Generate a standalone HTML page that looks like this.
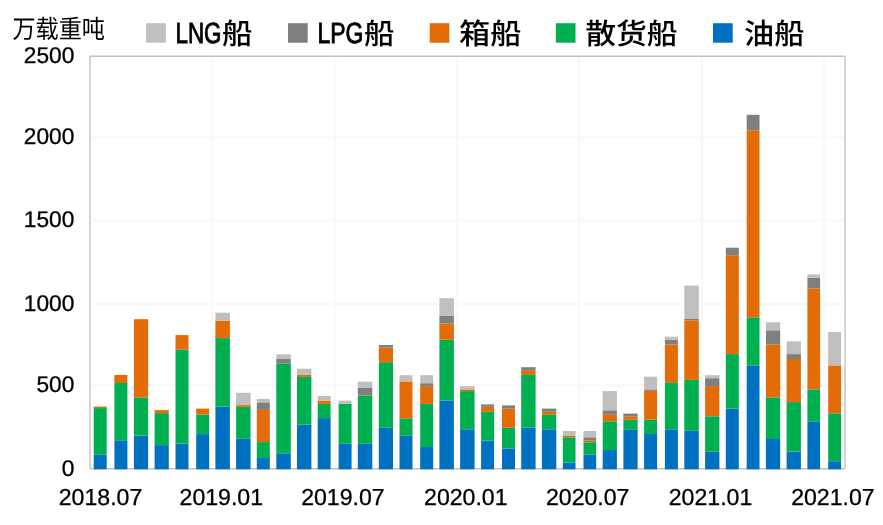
<!DOCTYPE html>
<html lang="zh-CN"><head><meta charset="utf-8"><title>万载重吨</title>
<style>html,body{margin:0;padding:0;background:#fff}body{width:883px;height:525px;overflow:hidden}svg{display:block;text-rendering:geometricPrecision}.ax{font-family:"Liberation Sans","Noto Sans CJK SC",sans-serif;font-size:22.7px;fill:#000;stroke:#000;stroke-width:0.3px}.lg{font-family:"Liberation Sans","Noto Sans CJK SC",sans-serif;font-size:29px;fill:#000;font-weight:500}.lt{font-family:"Liberation Sans","Noto Sans CJK SC",sans-serif;font-size:29.2px;fill:#000;font-weight:400;stroke:#000;stroke-width:0.9px;stroke-linejoin:miter}.ti{font-family:"Liberation Sans","Noto Sans CJK SC",sans-serif;font-size:25.4px;fill:#000;font-weight:400}</style></head><body>
<svg width="883" height="525" viewBox="0 0 883 525">
<rect width="883" height="525" fill="#fff"/>
<g stroke="#f8f8f8" stroke-width="2.2" fill="none">
<line x1="92.5" x2="844.0" y1="137.3" y2="137.3"/>
<line x1="92.5" x2="844.0" y1="220.5" y2="220.5"/>
<line x1="92.5" x2="844.0" y1="304.0" y2="304.0"/>
<line x1="92.5" x2="844.0" y1="385.3" y2="385.3"/>
<line x1="212.2" x2="212.2" y1="57.2" y2="467.7"/>
<line x1="335.3" x2="335.3" y1="57.2" y2="467.7"/>
<line x1="457.0" x2="457.0" y1="57.2" y2="467.7"/>
<line x1="579.0" x2="579.0" y1="57.2" y2="467.7"/>
<line x1="701.9" x2="701.9" y1="57.2" y2="467.7"/>
<line x1="824.0" x2="824.0" y1="57.2" y2="467.7"/>
</g>
<rect x="90.0" y="56.2" width="755.0" height="412.5" fill="none" stroke="#c2c2c2" stroke-width="1.4" rx="0.6"/>
<rect x="93.7" y="454.8" width="13.0" height="14.5" fill="#0070C0"/>
<rect x="93.7" y="408.1" width="13.0" height="46.7" fill="#00B050"/>
<rect x="93.7" y="406.6" width="13.0" height="1.5" fill="#E36C09"/>
<rect x="114.4" y="440.3" width="13.0" height="29.0" fill="#0070C0"/>
<rect x="114.4" y="383.0" width="13.0" height="57.3" fill="#00B050"/>
<rect x="114.4" y="375.0" width="13.0" height="8.0" fill="#E36C09"/>
<rect x="133.9" y="435.6" width="14.2" height="33.7" fill="#0070C0"/>
<rect x="133.9" y="397.4" width="14.2" height="38.2" fill="#00B050"/>
<rect x="133.9" y="319.2" width="14.2" height="78.2" fill="#E36C09"/>
<rect x="154.6" y="445.1" width="14.2" height="24.2" fill="#0070C0"/>
<rect x="154.6" y="413.1" width="14.2" height="32.0" fill="#00B050"/>
<rect x="154.6" y="410.1" width="14.2" height="3.0" fill="#E36C09"/>
<rect x="175.5" y="443.6" width="13.0" height="25.7" fill="#0070C0"/>
<rect x="175.5" y="349.4" width="13.0" height="94.2" fill="#00B050"/>
<rect x="175.5" y="335.1" width="13.0" height="14.3" fill="#E36C09"/>
<rect x="196.2" y="434.1" width="13.0" height="35.2" fill="#0070C0"/>
<rect x="196.2" y="414.6" width="13.0" height="19.5" fill="#00B050"/>
<rect x="196.2" y="408.6" width="13.0" height="6.0" fill="#E36C09"/>
<rect x="215.4" y="406.6" width="14.5" height="62.7" fill="#0070C0"/>
<rect x="215.4" y="338.1" width="14.5" height="68.5" fill="#00B050"/>
<rect x="215.4" y="320.7" width="14.5" height="17.4" fill="#E36C09"/>
<rect x="215.4" y="312.7" width="14.5" height="8.0" fill="#BFBFBF"/>
<rect x="236.1" y="438.8" width="14.5" height="30.5" fill="#0070C0"/>
<rect x="236.1" y="406.9" width="14.5" height="31.9" fill="#00B050"/>
<rect x="236.1" y="405.1" width="14.5" height="1.8" fill="#E36C09"/>
<rect x="236.1" y="392.8" width="14.5" height="12.3" fill="#BFBFBF"/>
<rect x="256.8" y="458.0" width="13.0" height="11.3" fill="#0070C0"/>
<rect x="256.8" y="442.1" width="13.0" height="15.9" fill="#00B050"/>
<rect x="256.8" y="409.9" width="13.0" height="32.2" fill="#E36C09"/>
<rect x="256.8" y="402.4" width="13.0" height="7.5" fill="#7F7F7F"/>
<rect x="256.8" y="398.9" width="13.0" height="3.5" fill="#BFBFBF"/>
<rect x="276.3" y="453.3" width="14.5" height="16.0" fill="#0070C0"/>
<rect x="276.3" y="363.7" width="14.5" height="89.6" fill="#00B050"/>
<rect x="276.3" y="359.0" width="14.5" height="4.7" fill="#7F7F7F"/>
<rect x="276.3" y="354.3" width="14.5" height="4.7" fill="#BFBFBF"/>
<rect x="297.0" y="424.6" width="14.4" height="44.7" fill="#0070C0"/>
<rect x="297.0" y="376.9" width="14.4" height="47.7" fill="#00B050"/>
<rect x="297.0" y="374.9" width="14.4" height="2.0" fill="#E36C09"/>
<rect x="297.0" y="368.7" width="14.4" height="6.2" fill="#BFBFBF"/>
<rect x="317.7" y="418.1" width="12.9" height="51.2" fill="#0070C0"/>
<rect x="317.7" y="403.9" width="12.9" height="14.2" fill="#00B050"/>
<rect x="317.7" y="400.6" width="12.9" height="3.3" fill="#E36C09"/>
<rect x="317.7" y="395.9" width="12.9" height="4.7" fill="#BFBFBF"/>
<rect x="338.6" y="443.8" width="13.0" height="25.5" fill="#0070C0"/>
<rect x="338.6" y="403.9" width="13.0" height="39.9" fill="#00B050"/>
<rect x="338.6" y="400.6" width="13.0" height="3.3" fill="#BFBFBF"/>
<rect x="357.8" y="443.8" width="14.5" height="25.5" fill="#0070C0"/>
<rect x="357.8" y="395.6" width="14.5" height="48.2" fill="#00B050"/>
<rect x="357.8" y="387.9" width="14.5" height="7.7" fill="#7F7F7F"/>
<rect x="357.8" y="381.7" width="14.5" height="6.2" fill="#BFBFBF"/>
<rect x="378.8" y="427.8" width="14.2" height="41.5" fill="#0070C0"/>
<rect x="378.8" y="362.2" width="14.2" height="65.6" fill="#00B050"/>
<rect x="378.8" y="347.6" width="14.2" height="14.6" fill="#E36C09"/>
<rect x="378.8" y="345.0" width="14.2" height="2.6" fill="#7F7F7F"/>
<rect x="399.5" y="435.8" width="13.0" height="33.5" fill="#0070C0"/>
<rect x="399.5" y="418.3" width="13.0" height="17.5" fill="#00B050"/>
<rect x="399.5" y="381.4" width="13.0" height="36.9" fill="#E36C09"/>
<rect x="399.5" y="375.2" width="13.0" height="6.2" fill="#BFBFBF"/>
<rect x="420.2" y="447.0" width="13.0" height="22.3" fill="#0070C0"/>
<rect x="420.2" y="403.9" width="13.0" height="43.1" fill="#00B050"/>
<rect x="420.2" y="386.1" width="13.0" height="17.8" fill="#E36C09"/>
<rect x="420.2" y="383.2" width="13.0" height="2.9" fill="#7F7F7F"/>
<rect x="420.2" y="375.2" width="13.0" height="8.0" fill="#BFBFBF"/>
<rect x="439.4" y="400.6" width="14.5" height="68.7" fill="#0070C0"/>
<rect x="439.4" y="339.8" width="14.5" height="60.8" fill="#00B050"/>
<rect x="439.4" y="323.6" width="14.5" height="16.2" fill="#E36C09"/>
<rect x="439.4" y="315.9" width="14.5" height="7.7" fill="#7F7F7F"/>
<rect x="439.4" y="298.2" width="14.5" height="17.7" fill="#BFBFBF"/>
<rect x="460.1" y="429.3" width="14.5" height="40.0" fill="#0070C0"/>
<rect x="460.1" y="391.1" width="14.5" height="38.2" fill="#00B050"/>
<rect x="460.1" y="389.4" width="14.5" height="1.7" fill="#E36C09"/>
<rect x="460.1" y="386.1" width="14.5" height="3.3" fill="#BFBFBF"/>
<rect x="481.1" y="440.5" width="13.0" height="28.8" fill="#0070C0"/>
<rect x="481.1" y="411.8" width="13.0" height="28.7" fill="#00B050"/>
<rect x="481.1" y="406.8" width="13.0" height="5.0" fill="#E36C09"/>
<rect x="481.1" y="404.4" width="13.0" height="2.4" fill="#7F7F7F"/>
<rect x="502.0" y="448.5" width="13.0" height="20.8" fill="#0070C0"/>
<rect x="502.0" y="427.8" width="13.0" height="20.7" fill="#00B050"/>
<rect x="502.0" y="408.6" width="13.0" height="19.2" fill="#E36C09"/>
<rect x="502.0" y="405.4" width="13.0" height="3.2" fill="#7F7F7F"/>
<rect x="521.2" y="427.8" width="14.4" height="41.5" fill="#0070C0"/>
<rect x="521.2" y="374.9" width="14.4" height="52.9" fill="#00B050"/>
<rect x="521.2" y="370.2" width="14.4" height="4.7" fill="#E36C09"/>
<rect x="521.2" y="367.2" width="14.4" height="3.0" fill="#7F7F7F"/>
<rect x="541.9" y="429.3" width="14.4" height="40.0" fill="#0070C0"/>
<rect x="541.9" y="414.8" width="14.4" height="14.5" fill="#00B050"/>
<rect x="541.9" y="411.8" width="14.4" height="3.0" fill="#E36C09"/>
<rect x="541.9" y="408.6" width="14.4" height="3.2" fill="#7F7F7F"/>
<rect x="562.8" y="462.7" width="12.7" height="6.6" fill="#0070C0"/>
<rect x="562.8" y="437.3" width="12.7" height="25.4" fill="#00B050"/>
<rect x="562.8" y="435.5" width="12.7" height="1.8" fill="#E36C09"/>
<rect x="562.8" y="431.0" width="12.7" height="4.5" fill="#BFBFBF"/>
<rect x="583.5" y="454.7" width="12.7" height="14.6" fill="#0070C0"/>
<rect x="583.5" y="442.3" width="12.7" height="12.4" fill="#00B050"/>
<rect x="583.5" y="440.3" width="12.7" height="2.0" fill="#E36C09"/>
<rect x="583.5" y="437.3" width="12.7" height="3.0" fill="#7F7F7F"/>
<rect x="583.5" y="431.0" width="12.7" height="6.3" fill="#BFBFBF"/>
<rect x="602.7" y="450.0" width="14.2" height="19.3" fill="#0070C0"/>
<rect x="602.7" y="421.3" width="14.2" height="28.7" fill="#00B050"/>
<rect x="602.7" y="414.8" width="14.2" height="6.5" fill="#E36C09"/>
<rect x="602.7" y="410.3" width="14.2" height="4.5" fill="#7F7F7F"/>
<rect x="602.7" y="391.1" width="14.2" height="19.2" fill="#BFBFBF"/>
<rect x="623.4" y="429.3" width="14.2" height="40.0" fill="#0070C0"/>
<rect x="623.4" y="419.8" width="14.2" height="9.5" fill="#00B050"/>
<rect x="623.4" y="416.3" width="14.2" height="3.5" fill="#E36C09"/>
<rect x="623.4" y="413.6" width="14.2" height="2.7" fill="#7F7F7F"/>
<rect x="644.1" y="434.0" width="13.0" height="35.3" fill="#0070C0"/>
<rect x="644.1" y="419.8" width="13.0" height="14.2" fill="#00B050"/>
<rect x="644.1" y="390.9" width="13.0" height="28.9" fill="#E36C09"/>
<rect x="644.1" y="389.4" width="13.0" height="1.5" fill="#7F7F7F"/>
<rect x="644.1" y="376.7" width="13.0" height="12.7" fill="#BFBFBF"/>
<rect x="664.9" y="429.3" width="13.0" height="40.0" fill="#0070C0"/>
<rect x="664.9" y="382.9" width="13.0" height="46.4" fill="#00B050"/>
<rect x="664.9" y="344.5" width="13.0" height="38.4" fill="#E36C09"/>
<rect x="664.9" y="339.7" width="13.0" height="4.8" fill="#7F7F7F"/>
<rect x="664.9" y="336.7" width="13.0" height="3.0" fill="#BFBFBF"/>
<rect x="684.3" y="430.8" width="14.5" height="38.5" fill="#0070C0"/>
<rect x="684.3" y="379.9" width="14.5" height="50.9" fill="#00B050"/>
<rect x="684.3" y="320.5" width="14.5" height="59.4" fill="#E36C09"/>
<rect x="684.3" y="319.0" width="14.5" height="1.5" fill="#7F7F7F"/>
<rect x="684.3" y="285.6" width="14.5" height="33.4" fill="#BFBFBF"/>
<rect x="705.1" y="451.5" width="14.3" height="17.8" fill="#0070C0"/>
<rect x="705.1" y="416.3" width="14.3" height="35.2" fill="#00B050"/>
<rect x="705.1" y="386.1" width="14.3" height="30.2" fill="#E36C09"/>
<rect x="705.1" y="378.2" width="14.3" height="7.9" fill="#7F7F7F"/>
<rect x="705.1" y="375.2" width="14.3" height="3.0" fill="#BFBFBF"/>
<rect x="725.8" y="408.6" width="13.0" height="60.7" fill="#0070C0"/>
<rect x="725.8" y="354.1" width="13.0" height="54.5" fill="#00B050"/>
<rect x="725.8" y="255.2" width="13.0" height="98.9" fill="#E36C09"/>
<rect x="725.8" y="247.7" width="13.0" height="7.5" fill="#7F7F7F"/>
<rect x="746.7" y="365.4" width="12.8" height="103.9" fill="#0070C0"/>
<rect x="746.7" y="317.3" width="12.8" height="48.1" fill="#00B050"/>
<rect x="746.7" y="130.3" width="12.8" height="187.0" fill="#E36C09"/>
<rect x="746.7" y="114.8" width="12.8" height="15.5" fill="#7F7F7F"/>
<rect x="765.9" y="439.0" width="14.3" height="30.3" fill="#0070C0"/>
<rect x="765.9" y="397.4" width="14.3" height="41.6" fill="#00B050"/>
<rect x="765.9" y="344.5" width="14.3" height="52.9" fill="#E36C09"/>
<rect x="765.9" y="330.3" width="14.3" height="14.2" fill="#7F7F7F"/>
<rect x="765.9" y="322.3" width="14.3" height="8.0" fill="#BFBFBF"/>
<rect x="786.6" y="451.5" width="14.3" height="17.8" fill="#0070C0"/>
<rect x="786.6" y="402.1" width="14.3" height="49.4" fill="#00B050"/>
<rect x="786.6" y="359.0" width="14.3" height="43.1" fill="#E36C09"/>
<rect x="786.6" y="354.1" width="14.3" height="4.9" fill="#7F7F7F"/>
<rect x="786.6" y="341.4" width="14.3" height="12.7" fill="#BFBFBF"/>
<rect x="807.4" y="421.3" width="12.7" height="48.0" fill="#0070C0"/>
<rect x="807.4" y="389.4" width="12.7" height="31.9" fill="#00B050"/>
<rect x="807.4" y="288.6" width="12.7" height="100.8" fill="#E36C09"/>
<rect x="807.4" y="277.6" width="12.7" height="11.0" fill="#7F7F7F"/>
<rect x="807.4" y="274.4" width="12.7" height="3.2" fill="#BFBFBF"/>
<rect x="828.2" y="461.2" width="12.9" height="8.1" fill="#0070C0"/>
<rect x="828.2" y="413.3" width="12.9" height="47.9" fill="#00B050"/>
<rect x="828.2" y="365.4" width="12.9" height="47.9" fill="#E36C09"/>
<rect x="828.2" y="332.0" width="12.9" height="33.4" fill="#BFBFBF"/>
<text class="ax" transform="translate(74.3,63.0)" text-anchor="end">2500</text>
<text class="ax" transform="translate(74.3,144.1)" text-anchor="end">2000</text>
<text class="ax" transform="translate(74.3,227.3)" text-anchor="end">1500</text>
<text class="ax" transform="translate(74.3,310.8)" text-anchor="end">1000</text>
<text class="ax" transform="translate(74.3,392.1)" text-anchor="end">500</text>
<text class="ax" transform="translate(74.3,475.5)" text-anchor="end">0</text>
<text class="ax" style="font-size:23.1px" transform="translate(100.5,504.5)" text-anchor="middle">2018.07</text>
<text class="ax" style="font-size:23.1px" transform="translate(221.3,504.5)" text-anchor="middle">2019.01</text>
<text class="ax" style="font-size:23.1px" transform="translate(342.9,504.5)" text-anchor="middle">2019.07</text>
<text class="ax" style="font-size:23.1px" transform="translate(465.8,504.5)" text-anchor="middle">2020.01</text>
<text class="ax" style="font-size:23.1px" transform="translate(587.7,504.5)" text-anchor="middle">2020.07</text>
<text class="ax" style="font-size:23.1px" transform="translate(710.5,504.5)" text-anchor="middle">2021.01</text>
<text class="ax" style="font-size:23.1px" transform="translate(832.9,504.5)" text-anchor="middle">2021.07</text>
<text class="ti" x="12.4" y="37.7" textLength="92.6" lengthAdjust="spacingAndGlyphs">万载重吨</text>
<rect x="146.1" y="23.2" width="19.7" height="19.5" fill="#BFBFBF"/>
<text><tspan class="lt" x="175.5" y="43.3" textLength="46" lengthAdjust="spacingAndGlyphs">LNG</tspan><tspan class="lg" x="222.0" y="44.2" textLength="30.4" lengthAdjust="spacingAndGlyphs">船</tspan></text>
<rect x="288.0" y="23.2" width="19.7" height="19.5" fill="#7F7F7F"/>
<text><tspan class="lt" x="317.5" y="43.3" textLength="46" lengthAdjust="spacingAndGlyphs">LPG</tspan><tspan class="lg" x="364.0" y="44.2" textLength="30.4" lengthAdjust="spacingAndGlyphs">船</tspan></text>
<rect x="429.7" y="23.2" width="19.7" height="19.5" fill="#E36C09"/>
<text class="lg" x="459.0" y="44.2" textLength="62.4" lengthAdjust="spacingAndGlyphs">箱船</text>
<rect x="555.8" y="23.2" width="19.7" height="19.5" fill="#00B050"/>
<text class="lg" x="585.2" y="44.2" textLength="92.4" lengthAdjust="spacingAndGlyphs">散货船</text>
<rect x="713.0" y="23.2" width="19.7" height="19.5" fill="#0070C0"/>
<text class="lg" x="744.1" y="44.2" textLength="60.2" lengthAdjust="spacingAndGlyphs">油船</text>
</svg>
</body></html>
